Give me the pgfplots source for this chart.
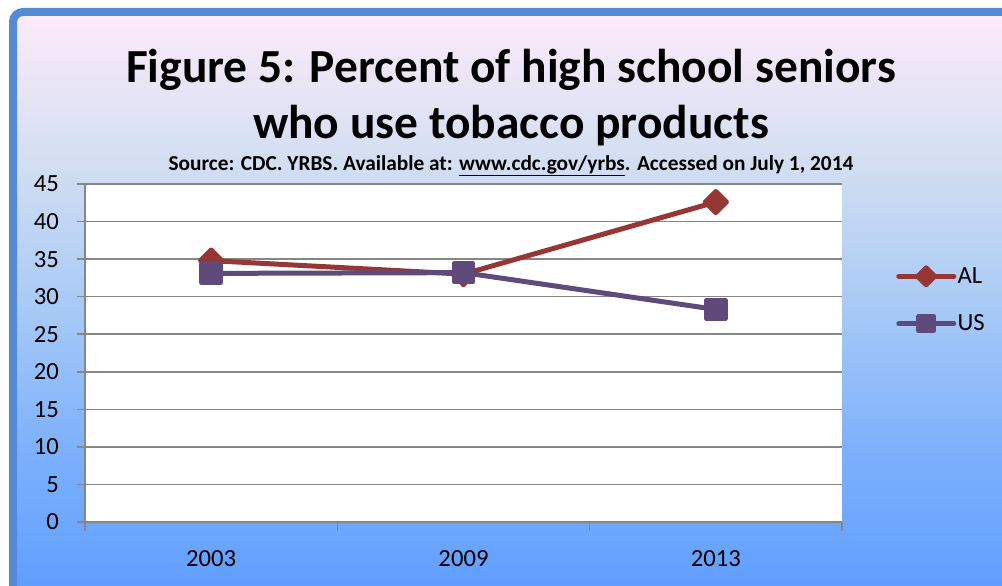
\documentclass[border=0pt]{standalone}
\usepackage{fontspec}
\setmainfont{Carlito}
\usepackage{pgfplots}
\pgfplotsset{compat=1.18}
\definecolor{alred}{RGB}{150,55,53}
\definecolor{uspurple}{RGB}{96,74,123}
\definecolor{bordblue}{RGB}{85,138,212}
\definecolor{gridgray}{RGB}{134,134,134}
\definecolor{bgtop}{RGB}{253,235,250}
\definecolor{bgA}{RGB}{210,222,242}
\definecolor{bgB}{RGB}{168,202,246}
\definecolor{bgC}{RGB}{122,175,252}
\definecolor{bgbot}{RGB}{94,157,255}
\pgfdeclareverticalshading{bgshade}{100bp}{color(0bp)=(bgbot); color(25bp)=(bgbot); color(37bp)=(bgC); color(50bp)=(bgB); color(62bp)=(bgA); color(75bp)=(bgtop); color(100bp)=(bgtop)}
\begin{document}
\begin{tikzpicture}
\begin{scope}[x=0.75pt,y=-0.75pt]
\clip (0,0) rectangle (1002,585);
\fill[white] (0,0) rectangle (1002,585);
\shade[shading=bgshade] (13,12) rectangle (1020,600);
\draw[bordblue, line width=6pt, rounded corners=7.5pt] (13,12) rectangle (1020,600);
\node[font=\bfseries\fontsize{35.6}{40}\selectfont, anchor=base] at (511,83) {Figure 5: Percent of high school seniors};
\node[font=\bfseries\fontsize{35.6}{40}\selectfont, anchor=base] at (511,138) {who use tobacco products};
\node[font=\bfseries\fontsize{16}{19}\selectfont, anchor=base] at (511,170) {Source: CDC. YRBS. Available at: \underline{www.cdc.gov/yrbs}. Accessed on July 1, 2014};
\end{scope}
\begin{axis}[
  at={(63.75pt,-391.5pt)}, anchor=south west,
  scale only axis, width=567.75pt, height=253.5pt,
  xmin=-0.5, xmax=2.5, ymin=0, ymax=45,
  axis background/.style={fill=white},
  axis x line*=bottom, axis y line*=left,
  axis line style={gridgray, line width=1.2pt},
  xtick={0,1,2}, xticklabels={2003,2009,2013},
  minor xtick={-0.5,0.5,1.5,2.5},
  major x tick style={draw=none},
  minor x tick style={gridgray, line width=1.2pt},
  ytick={0,5,...,45},
  y tick style={gridgray, line width=1.2pt},
  tick align=outside,
  major tick length=6pt, minor tick length=6.5pt,
  ymajorgrids, grid style={gridgray, line width=1.2pt},
  /pgf/number format/assume math mode=true,
  tick label style={font=\fontsize{18.5}{22}\selectfont, black},
  xticklabel style={yshift=-12pt},
  yticklabel style={xshift=-10pt},
  legend style={draw=none, fill=none, at={(1.0713,0.657)}, anchor=west,
    font=\fontsize{18.5}{22}\selectfont, inner sep=0pt, row sep=20pt,
    nodes={inner sep=1pt}},
  legend cell align=left,
  legend image code/.code={\draw[#1, mark repeat=2, mark phase=2, every mark/.append style={scale=0.8}] plot coordinates {(0pt,0pt) (20.6pt,0pt) (41.25pt,0pt)};},
]
\addplot[alred, line width=3.75pt, line cap=round, line join=round, mark=square*, mark size=5.6pt, mark options={rotate=45, solid, fill=alred}] coordinates {(0,34.8) (1,33.0) (2,42.6)};
\addlegendentry{AL}
\addplot[uspurple, line width=3.75pt, line cap=round, line join=round, mark=square*, mark size=7pt, mark options={solid, fill=uspurple}] coordinates {(0,33.1) (1,33.2) (2,28.3)};
\addlegendentry{US}
\end{axis}
\end{tikzpicture}
\end{document}
